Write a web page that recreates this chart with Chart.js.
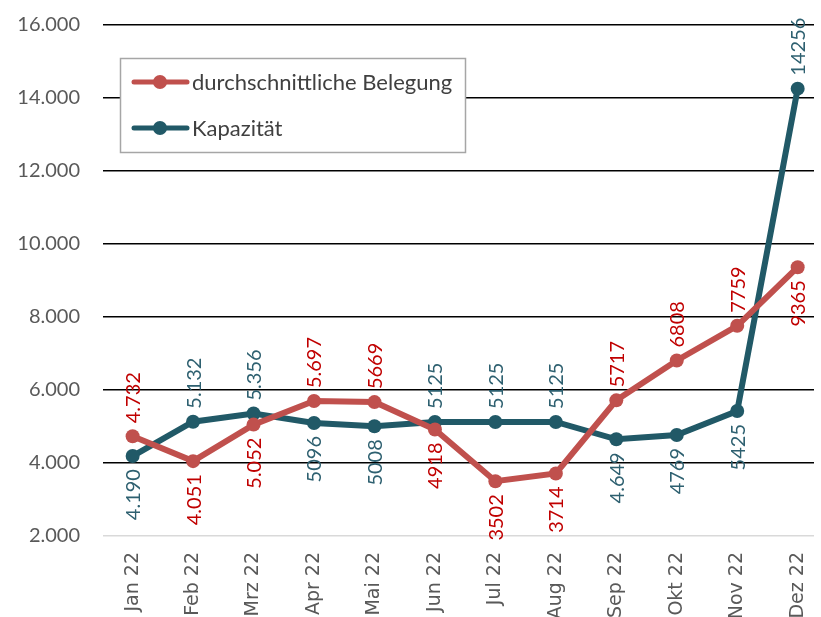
<!DOCTYPE html>
<html>
<head>
<meta charset="utf-8">
<script src="https://cdn.jsdelivr.net/npm/chart.js@4"></script>
<style>
  html, body { margin: 0; padding: 0; background: #fff; }
  #wrap { width: 821px; height: 617px; }
</style>
</head>
<body>
<div id="wrap"><canvas id="chart"></canvas></div>
<script>
// Belegung vs. Kapazität 2022

const months = ["Jan 22", "Feb 22", "Mrz 22", "Apr 22", "Mai 22", "Jun 22",
  "Jul 22", "Aug 22", "Sep 22", "Okt 22", "Nov 22", "Dez 22"];

const belegung = [4732, 4051, 5052, 5697, 5669, 4918, 3502, 3714, 5717, 6808, 7759, 9365];
const belegungLabels = ["4.732", "4.051", "5.052", "5.697", "5669", "4918",
  "3502", "3714", "5717", "6808", "7759", "9365"];

const kapazitaet = [4190, 5132, 5356, 5096, 5008, 5125, 5125, 5125, 4649, 4769, 5425, 14256];
const kapazitaetLabels = ["4.190", "5.132", "5.356", "5096", "5008", "5125",
  "5125", "5125", "4.649", "4769", "5425", "14256"];

const yTicks = [2000, 4000, 6000, 8000, 10000, 12000, 14000, 16000];
const yTickLabels = ["2.000", "4.000", "6.000", "8.000", "10.000", "12.000", "14.000", "16.000"];

// where each value label sits relative to its point
const belegungPos = ["up", "down", "down", "up", "up", "down", "down", "down", "up", "up", "up", "down"];
const kapazitaetPos = ["down", "up", "up", "down", "down", "up", "up", "up", "down", "down", "down", "up"];

const RED = "#C0504D";
const TEAL = "#215967";

const valueLabels = {
  id: "valueLabels",
  afterDatasetsDraw(chart) {
    const ctx = chart.ctx;
    chart.data.datasets.forEach((ds, i) => {
      const meta = chart.getDatasetMeta(i);
      meta.data.forEach((pt, j) => {
        ctx.save();
        ctx.translate(pt.x, pt.y);
        ctx.rotate(-Math.PI / 2);
        ctx.font = "20px Lato";
        ctx.fillStyle = ds.labelColor;
        ctx.textBaseline = "middle";
        if (ds.labelPos[j] === "up") {
          ctx.textAlign = "left";
          ctx.fillText(ds.labelText[j], 13, 1);
        } else {
          ctx.textAlign = "right";
          ctx.fillText(ds.labelText[j], -13, 1);
        }
        ctx.restore();
      });
    });
  }
};

const boxLegend = {
  id: "boxLegend",
  afterDraw(chart) {
    const ctx = chart.ctx;
    ctx.save();
    ctx.fillStyle = "#fff";
    ctx.fillRect(120.5, 58.5, 345, 94);
    ctx.strokeStyle = "#a6a6a6";
    ctx.lineWidth = 1.5;
    ctx.strokeRect(120.5, 58.5, 345, 94);
    chart.data.datasets.forEach((ds, i) => {
      const y = 82 + i * 46;
      ctx.strokeStyle = ds.borderColor;
      ctx.lineWidth = 5;
      ctx.lineCap = "round";
      ctx.beginPath();
      ctx.moveTo(134, y);
      ctx.lineTo(187, y);
      ctx.stroke();
      ctx.fillStyle = ds.borderColor;
      ctx.beginPath();
      ctx.arc(160, y, 7, 0, Math.PI * 2);
      ctx.fill();
      ctx.fillStyle = "#404040";
      ctx.font = "22px Lato";
      ctx.textAlign = "left";
      ctx.textBaseline = "middle";
      ctx.fillText(ds.label, 192, y + 1);
    });
    ctx.restore();
  }
};

new Chart(document.getElementById("chart"), {
  type: "line",
  data: {
    datasets: [
      {
        label: "durchschnittliche Belegung",
        data: belegung.map((v, i) => ({ x: i, y: v })),
        borderColor: RED,
        backgroundColor: RED,
        borderWidth: 6,
        pointRadius: 7,
        pointBorderWidth: 0,
        labelColor: "#C00000",
        labelText: belegungLabels,
        labelPos: belegungPos,
      },
      {
        label: "Kapazität",
        data: kapazitaet.map((v, i) => ({ x: i, y: v })),
        borderColor: TEAL,
        backgroundColor: TEAL,
        borderWidth: 6,
        pointRadius: 7,
        pointBorderWidth: 0,
        labelColor: "#2E6070",
        labelText: kapazitaetLabels,
        labelPos: kapazitaetPos,
      },
    ],
  },
  options: {
    responsive: true,
    maintainAspectRatio: false,
    animation: false,
    clip: false,
    layout: { padding: { top: 25, right: 0, left: 0, bottom: 0 } },
    plugins: {
      legend: { display: false },
      tooltip: { enabled: false },
    },
    scales: {
      x: {
        type: "linear",
        min: -0.49,
        max: 11.27,
        afterBuildTicks: (scale) => {
          scale.ticks = months.map((m, i) => ({ value: i }));
        },
        afterFit: (scale) => {
          scale.height = 81;
          scale.paddingLeft = 0;
          scale.paddingRight = 0;
        },
        grid: { display: false },
        border: { display: false },
        ticks: {
          autoSkip: false,
          minRotation: 90,
          maxRotation: 90,
          padding: 8,
          color: "#595959",
          font: { family: "DejaVu Sans", size: 19 },
          callback: (v) => months[v],
        },
      },
      y: {
        min: 2000,
        max: 16000,
        afterBuildTicks: (scale) => {
          scale.ticks = yTicks.map((v) => ({ value: v }));
        },
        afterFit: (scale) => {
          scale.width = 103;
          scale.paddingTop = 0;
          scale.paddingBottom = 0;
        },
        border: { display: false },
        grid: {
          drawTicks: false,
          lineWidth: 1.5,
          color: (c) => (c.tick && c.tick.value === 2000 ? "#d9d9d9" : "#000"),
        },
        ticks: {
          padding: 23,
          color: "#595959",
          font: { family: "Lato", size: 20 },
          callback: (v) => yTickLabels[yTicks.indexOf(v)],
        },
      },
    },
  },
  plugins: [valueLabels, boxLegend],
});
</script>
</body>
</html>
